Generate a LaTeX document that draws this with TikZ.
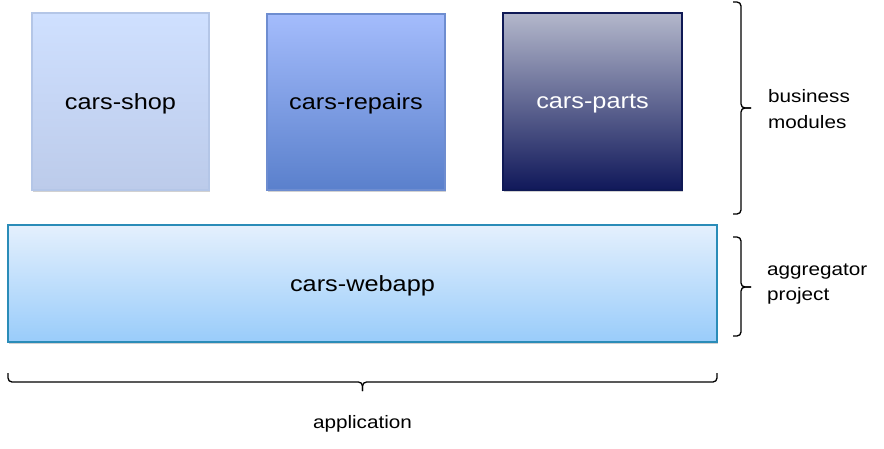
\documentclass[tikz,border=0pt]{standalone}
\usepackage{fontspec}
\setmainfont{Liberation Sans}
\newfontfamily\boxfont[FakeStretch=1.15]{Liberation Sans}
\usetikzlibrary{shadows}
\definecolor{shopT}{HTML}{CFE0FF}
\definecolor{shopB}{HTML}{BCCBEA}
\definecolor{shopD}{HTML}{B4C6E7}
\definecolor{repT}{HTML}{A4BCFC}
\definecolor{repB}{HTML}{5A80CC}
\definecolor{repD}{HTML}{6E8DD0}
\definecolor{parT}{HTML}{B3B7CB}
\definecolor{parB}{HTML}{10185A}
\definecolor{parD}{HTML}{0F1955}
\definecolor{webT}{HTML}{E4F0FD}
\definecolor{webB}{HTML}{99CCFA}
\definecolor{webD}{HTML}{2A8CB8}
\tikzset{
  modbox/.style={draw, line width=1.2pt, inner sep=0pt, text=black,
    text depth=0pt,
    font=\boxfont\fontsize{22}{26}\selectfont,
    drop shadow={shadow xshift=1.2pt, shadow yshift=-2.2pt, opacity=0.3, fill=black!60}},
  bracestyle/.style={draw=black, line width=1.3pt, rounded corners=4pt},
  sidelabel/.style={font=\boxfont\fontsize{18}{25.5}\selectfont, align=left, inner sep=0pt, text=black}
}
\begin{document}
\begin{tikzpicture}[x=1pt,y=-1pt]
\useasboundingbox (0,0) rectangle (884,448);
\node[modbox, draw=shopD, top color=shopT, bottom color=shopB,
  minimum width=177pt, minimum height=177pt] (shop) at (120.5,101.5) {cars-shop};
\node[modbox, draw=repD, top color=repT, bottom color=repB,
  minimum width=178pt, minimum height=176pt] (repairs) at (356,102) {cars-repairs};
\node[modbox, draw=parD, top color=parT, bottom color=parB, text=white,
  minimum width=179pt, minimum height=177pt] (parts) at (592.5,101.5) {cars-parts};
\node[modbox, draw=webD, top color=webT, bottom color=webB,
  minimum width=709pt, minimum height=117pt] (webapp) at (362.5,283.5) {cars-webapp};

% business modules brace
\coordinate (bmA) at (733,2);
\coordinate (bmM) at (741,108);
\coordinate (bmT) at (751,108);
\coordinate (bmB) at (733,214);
\draw[bracestyle] (bmA) -| (bmM) -- (bmT);
\draw[bracestyle] (bmB) -| (bmM) -- (bmT);
\node[sidelabel, anchor=west] (bmlabel) at (768,109) {business\\modules};

% aggregator project brace
\coordinate (agA) at (733,237);
\coordinate (agM) at (741,287);
\coordinate (agT) at (751,287);
\coordinate (agB) at (733,336);
\draw[bracestyle] (agA) -| (agM) -- (agT);
\draw[bracestyle] (agB) -| (agM) -- (agT);
\node[sidelabel, anchor=west] (aglabel) at (767,284) {aggregator\\project};

% application brace
\coordinate (apA) at (8,373);
\coordinate (apM) at (362.5,382);
\coordinate (apT) at (362.5,391);
\coordinate (apB) at (717,373);
\draw[bracestyle] (apA) |- (apM) -- (apT);
\draw[bracestyle] (apB) |- (apM) -- (apT);
\node[sidelabel] (aplabel) at (362.5,424) {application};
\end{tikzpicture}
\end{document}
